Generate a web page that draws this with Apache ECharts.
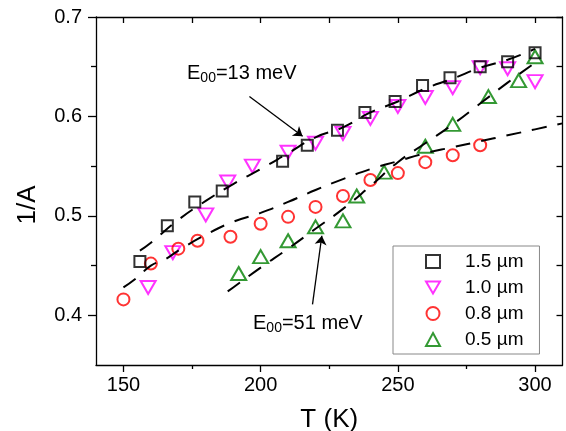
<!DOCTYPE html>
<html><head><meta charset="utf-8">
<script src="https://cdn.jsdelivr.net/npm/echarts@6/dist/echarts.min.js"></script>
<style>html,body{margin:0;padding:0;background:#fff}#c{width:566px;height:431px}</style>
</head><body><div id="c"></div>
<script>
// ---- data ----
const T_15 = [156,166,176,186,208,217,228,238,249,259,269,280,290,300];
const A_15 = [0.454,0.490,0.514,0.525,0.555,0.571,0.586,0.604,0.615,0.631,0.639,0.650,0.655,0.664];
const T_10 = [159,168,180,188,197,210,220,230,240,250,260,270,280,290,300];
const A_10 = [0.428,0.463,0.501,0.534,0.550,0.564,0.573,0.583,0.598,0.610,0.619,0.629,0.649,0.648,0.635];
const T_08 = [150,160,170,177,189,200,210,220,230,240,250,260,270,280];
const A_08 = [0.416,0.452,0.467,0.475,0.479,0.492,0.499,0.509,0.520,0.536,0.543,0.554,0.561,0.571];
const T_05 = [192,200,210,220,230,235,245,260,270,283,294,300];
const A_05 = [0.442,0.459,0.475,0.489,0.495,0.520,0.544,0.570,0.592,0.620,0.636,0.660];
// dashed fit curves
const FIT13_T = [156,160,170,180,190,200,210,220,230,240,250,260,270,280,290,300];
const FIT13_A = [0.465,0.473,0.496,0.515,0.532,0.547,0.563,0.579,0.589,0.604,0.615,0.628,0.638,0.649,0.657,0.668];
const FIT51_T = [188,190,200,210,220,230,240,250,260,270,280,290,299];
const FIT51_A = [0.424,0.428,0.448,0.467,0.487,0.507,0.530,0.554,0.573,0.592,0.613,0.634,0.652];
const FIT08_T = [150,155,160,165,170,180,190,200,210,220,230,240,250,260,270,280,290,300,310];
const FIT08_A = [0.428,0.438,0.450,0.456,0.465,0.481,0.494,0.503,0.514,0.526,0.537,0.547,0.555,0.563,0.569,0.575,0.581,0.587,0.593];
// axes
const X_MIN = 140, X_MAX = 310, Y_MIN = 0.35, Y_MAX = 0.7;
const X_LABELS = [150,200,250,300];
const X_MINOR = [175,225,275];
const X_ALL = [150,175,200,225,250,275,300];
const Y_LABELS = [0.4,0.5,0.6,0.7];
const Y_MINOR = [0.45,0.55,0.65];
const Y_ALL = [0.4,0.45,0.5,0.55,0.6,0.65,0.7];
// annotations
const ARROW13 = [[195.9,0.620],[215.3,0.580]];
const ARROW51 = [[218.9,0.411],[222.3,0.480]];

const FONT = '"Liberation Sans", Arial, Helvetica, sans-serif';
const pts = (xs, ys) => xs.map((x, i) => [x, ys[i]]);
const AX = {lineStyle:{color:'#000', width:1.3}};
const DOWN_TRI = 'path://M0,0L14,0L7,12Z';

const chart = echarts.init(document.getElementById('c'));
const hollow = (c) => ({color:'rgba(0,0,0,0)', borderColor:c, borderWidth:2});
const fitLine = (xs, ys) => ({type:'line', data:pts(xs, ys), smooth:true, showSymbol:false, symbol:'none',
  lineStyle:{color:'#000', width:2, type:[15,11]}, z:5, silent:true});

const sub = (main, s, rest) => `{a|${main}}{b|${s}}{a|${rest}}`;
const rich = {a:{fontSize:20, fontFamily:FONT, color:'#000'}, b:{fontSize:14, fontFamily:FONT, color:'#000', padding:[10,0,0,0]}};

chart.setOption({
  animation:false,
  backgroundColor:'#fff',
  grid:{left:96, right:3.5, top:17, bottom:66, outerBoundsMode:'none', containLabel:false},
  xAxis:[
    {type:'value', min:X_MIN, max:X_MAX, position:'bottom', splitLine:{show:false},
     axisLine:AX, axisTick:{length:7, customValues:X_LABELS, lineStyle:{color:'#000', width:1.3}},
     axisLabel:{customValues:X_LABELS, fontSize:20, fontFamily:FONT, color:'#000', margin:10},
     name:'T (K)', nameLocation:'middle', nameGap:42, nameTextStyle:{fontSize:26, fontFamily:FONT, color:'#000'}},
    {type:'value', min:X_MIN, max:X_MAX, position:'bottom', splitLine:{show:false},
     axisLine:{show:false}, axisTick:{length:4, customValues:X_MINOR, lineStyle:{color:'#000', width:1.3}},
     axisLabel:{show:false}},
    {type:'value', min:X_MIN, max:X_MAX, position:'top', splitLine:{show:false},
     axisLine:AX, axisTick:{inside:true, length:6, customValues:X_ALL, lineStyle:{color:'#000', width:1.3}},
     axisLabel:{show:false}}
  ],
  yAxis:[
    {type:'value', min:Y_MIN, max:Y_MAX, position:'left', splitLine:{show:false},
     axisLine:AX, axisTick:{length:8, customValues:Y_LABELS, lineStyle:{color:'#000', width:1.3}},
     axisLabel:{customValues:Y_LABELS, fontSize:20, fontFamily:FONT, color:'#000', margin:14, formatter:v=>v.toFixed(1)},
     name:'1/A', nameLocation:'middle', nameGap:55, nameTextStyle:{fontSize:26, fontFamily:FONT, color:'#000', padding:[0,28,0,0]}},
    {type:'value', min:Y_MIN, max:Y_MAX, position:'left', splitLine:{show:false},
     axisLine:{show:false}, axisTick:{length:5, customValues:Y_MINOR, lineStyle:{color:'#000', width:1.3}},
     axisLabel:{show:false}},
    {type:'value', min:Y_MIN, max:Y_MAX, position:'right', splitLine:{show:false},
     axisLine:AX, axisTick:{inside:true, length:6, customValues:Y_ALL, lineStyle:{color:'#000', width:1.3}},
     axisLabel:{show:false}}
  ],
  legend:{
    orient:'vertical', left:393, top:246,
    data:['1.5 µm', {name:'1.0 µm', icon:DOWN_TRI}, '0.8 µm', '0.5 µm'],
    itemWidth:14, itemHeight:13, itemGap:7,
    padding:[6,16,5,32],
    borderColor:'#888', borderWidth:1, backgroundColor:'#fff',
    textStyle:{fontSize:19, fontFamily:FONT, color:'#000', padding:[0,0,0,20]},
    selectedMode:false
  },
  graphic:[
    {type:'text', left:187, top:63, z:100, style:{text:sub('E','00','=13 meV'), rich:rich}},
    {type:'text', left:253, top:313, z:100, style:{text:sub('E','00','=51 meV'), rich:rich}}
  ],
  series:[
    {name:'1.5 µm', type:'scatter', data:pts(T_15,A_15), symbol:'rect', symbolSize:11, itemStyle:hollow('#000'), z:3},
    {name:'1.0 µm', type:'scatter', data:pts(T_10,A_10), symbol:DOWN_TRI, symbolSize:[15,13], itemStyle:hollow('#ff00ff'), z:2},
    {name:'0.8 µm', type:'scatter', data:pts(T_08,A_08), symbol:'circle', symbolSize:12, itemStyle:hollow('#ff0000'), z:2},
    {name:'0.5 µm', type:'scatter', data:pts(T_05,A_05), symbol:'triangle', symbolSize:[15,13], itemStyle:hollow('#008000'), z:2},
    Object.assign(fitLine(FIT13_T, FIT13_A), {
      markLine:{silent:true, symbol:['none','arrow'], symbolSize:9,
        lineStyle:{color:'#000', width:1.3, type:'solid'}, label:{show:false},
        data:[[{coord:ARROW13[0]},{coord:ARROW13[1]}],[{coord:ARROW51[0]},{coord:ARROW51[1]}]]}
    }),
    fitLine(FIT51_T, FIT51_A),
    fitLine(FIT08_T, FIT08_A)
  ]
});
</script></body></html>
